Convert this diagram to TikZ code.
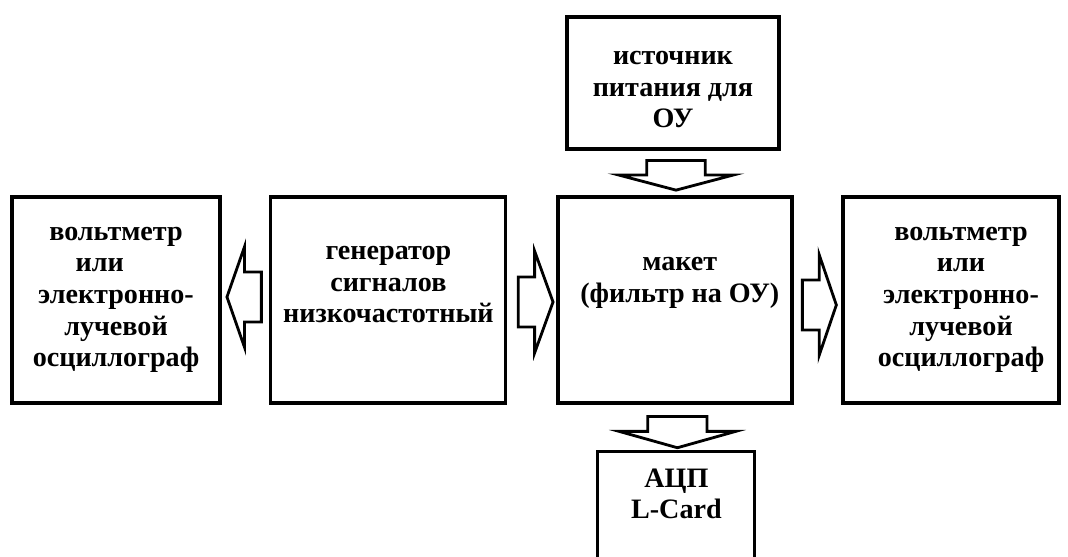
\documentclass[tikz,border=0pt]{standalone}
\usepackage{fontspec}
\setmainfont{Liberation Serif}
\usetikzlibrary{positioning,calc}

\begin{document}
\begin{tikzpicture}[
  font=\fontsize{20}{22.5}\selectfont\bfseries,
  bx/.style={draw=black, line width=2.2pt, fill=white, align=center},
  lbl/.style={align=center, inner sep=0pt},
  blk/.style={draw=black, line width=2pt, fill=white, line join=miter},
  pics/fatarr/.style n args={4}{code={
    \draw[blk] (0,-#2) -- (#3,-#2) -- (#3,-#4) -- (#1,0) -- (#3,#4) -- (#3,#2) -- (0,#2) -- cycle;}},
]
\useasboundingbox (0,0) rectangle (26.7,-13.925);

% =========================== MIDDLE ROW ===========================
\node[bx, minimum width=5.2cm, minimum height=5.15cm] (volL) at (2.9,-7.5)
  {вольтметр\\или\hphantom{ии}\\электронно-\\лучевой\\осциллограф};
\node[bx, minimum width=5.875cm, minimum height=5.15cm] (gen) at (9.71,-7.5){};
\node[lbl] (genT) at ($(gen.center)+(0,0.38)$){генератор\\сигналов\\низкочастотный};
\node[bx, minimum width=5.85cm, minimum height=5.15cm] (mak) at (16.875,-7.5){};
\node[lbl] (makT) at ($(mak.center)+(0.12,0.42)$){макет\\(фильтр на ОУ)};
\node[bx, minimum width=5.4cm, minimum height=5.15cm] (volR) at (23.775,-7.5){};
\node[lbl] (volRT) at ($(volR.center)+(0.25,0)$)
  {вольтметр\\или\\электронно-\\лучевой\\осциллограф};

% =========================== TOP / BOTTOM ===========================
\node[bx, minimum width=5.3cm, minimum height=3.3cm] (src) at (16.825,-2.075){};
\node[lbl] (srcT) at ($(src.center)+(0,-0.17)$){источник\\питания для\\ОУ};
\node[bx, minimum width=3.925cm, minimum height=3cm, anchor=north] (adc) at (16.91,-11.25){};
\node[lbl] (adcT) at ($(adc.north)+(0,-1.1)$){АЦП\\L-Card};

% =========================== BLOCK ARROWS ===========================
\pic at ($(src.south)+(0.075,-0.25)$) [rotate=-90] {fatarr={0.74}{0.73}{0.36}{1.44}};
\pic at ($(mak.south)+(0.06,-0.3)$) [rotate=-90] {fatarr={0.78}{0.74}{0.37}{1.46}};
\pic at ($(gen.west)+(-0.2,0.075)$) [rotate=180] {fatarr={0.86}{0.625}{0.42}{1.26}};
\pic at ($(gen.east)+(0.27,-0.05)$) {fatarr={0.87}{0.625}{0.41}{1.27}};
\pic at ($(mak.east)+(0.22,-0.125)$) {fatarr={0.85}{0.625}{0.42}{1.26}};

\end{tikzpicture}
\end{document}
